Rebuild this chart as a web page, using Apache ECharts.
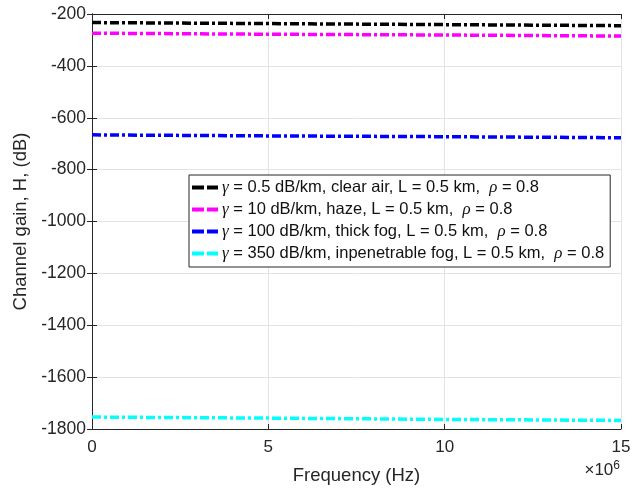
<!DOCTYPE html>
<html>
<head>
<meta charset="utf-8">
<script src="https://cdn.jsdelivr.net/npm/echarts@6/dist/echarts.min.js"></script>
<style>
  html, body { margin: 0; padding: 0; background: #fff; }
  #chart { width: 642px; height: 492px; }
</style>
</head>
<body>
<div id="chart"></div>
<script>
// frequency in Hz
var freq = [0, 5e6, 10e6, 15e6];
var clearAir = [-233, -237, -241, -245];
var haze = [-274, -278, -281, -285];
var thickFog = [-666, -670, -673, -677];
var inpenetrableFog = [-1754, -1758, -1763, -1767];
var xTicks = [0, 5, 10, 15];

var names = [
    "γ = 0.5 dB/km, clear air, L = 0.5 km,  ρ = 0.8",
    "γ = 10 dB/km, haze, L = 0.5 km,  ρ = 0.8",
    "γ = 100 dB/km, thick fog, L = 0.5 km,  ρ = 0.8",
    "γ = 350 dB/km, inpenetrable fog, L = 0.5 km,  ρ = 0.8"
];
var colors = ["#000000", "#ff00ff", "#0000ff", "#00ffff"];
var values = [clearAir, haze, thickFog, inpenetrableFog];

var font = "Liberation Sans, Arial, sans-serif";
var axisColor = "#262626";

function pairs(ys) {
    return freq.map(function (f, i) { return [f, ys[i]]; });
}

var series = values.map(function (ys, i) {
    return {
        name: names[i],
        type: "line",
        symbol: "none",
        data: pairs(ys),
        lineStyle: { color: colors[i], width: 3.5, type: [9, 3, 3, 3] },
        itemStyle: { color: colors[i] }
    };
});

var chart = echarts.init(document.getElementById("chart"));
chart.setOption({
    animation: false,
    backgroundColor: "#fff",
    grid: { left: 92, right: 21, top: 14, bottom: 63 },
    legend: {
        orient: "vertical",
        left: 189,
        top: 175,
        backgroundColor: "#fff",
        borderColor: axisColor,
        borderWidth: 1,
        padding: [4, 6, 5, 3],
        itemGap: 5,
        itemWidth: 26,
        itemHeight: 4,
        icon: "path://M0,0H12V4H0Z M15,0H26V4H15Z",
        data: names,
        formatter: function (n) {
            return n.replace("γ", "{g|γ}").replace("ρ", "{g|ρ}");
        },
        textStyle: {
            fontFamily: font,
            fontSize: 16.5,
            color: "#111",
            padding: [0, 0, 0, -1],
            rich: {
                g: { fontFamily: "Liberation Serif, serif", fontStyle: "italic", fontSize: 17, color: "#111" }
            }
        }
    },
    xAxis: [{
        type: "value",
        min: 0,
        max: 15e6,
        interval: 5e6,
        name: "Frequency (Hz)",
        nameLocation: "middle",
        nameGap: 37,
        nameTextStyle: { fontFamily: font, fontSize: 18.5, color: "#262626" },
        axisLine: { lineStyle: { color: axisColor, width: 1 } },
        axisTick: { inside: true, length: 5, lineStyle: { color: axisColor } },
        axisLabel: {
            fontFamily: font, fontSize: 17, color: "#262626", margin: 10,
            formatter: function (v) { return String(xTicks[Math.round(v / 5e6)]); }
        },
        splitLine: { show: true, lineStyle: { color: "#e3e3e3", width: 1 } }
    }, {
        type: "value",
        position: "top",
        min: 0,
        max: 15e6,
        interval: 5e6,
        axisLine: { show: true, lineStyle: { color: axisColor, width: 1 } },
        axisTick: { show: true, inside: true, length: 5, lineStyle: { color: axisColor } },
        axisLabel: { show: false },
        splitLine: { show: false }
    }],
    yAxis: [{
        type: "value",
        min: -1800,
        max: -200,
        interval: 200,
        name: "Channel gain, H, (dB)",
        nameLocation: "middle",
        nameGap: 60,
        nameTextStyle: { fontFamily: font, fontSize: 18.5, color: "#262626" },
        axisLine: { show: true, lineStyle: { color: axisColor, width: 1 } },
        axisTick: { show: true, inside: true, length: 5, lineStyle: { color: axisColor } },
        axisLabel: {
            fontFamily: font, fontSize: 17.5, color: "#262626", margin: 6,
            formatter: function (v) { return String(v); }
        },
        splitLine: { show: true, lineStyle: { color: "#e3e3e3", width: 1 } }
    }, {
        type: "value",
        position: "right",
        min: -1800,
        max: -200,
        interval: 200,
        axisLine: { show: true, lineStyle: { color: axisColor, width: 1 } },
        axisTick: { show: true, inside: true, length: 5, lineStyle: { color: axisColor } },
        axisLabel: { show: false },
        splitLine: { show: false }
    }],
    graphic: [{
        type: "text",
        right: 22,
        top: 460,
        style: {
            text: "×10{s|6}",
            font: "17px " + font,
            fill: "#262626",
            rich: { s: { fontSize: 12, verticalAlign: "top", padding: [0, 0, 8, 0] } }
        }
    }],
    series: series
});
window.addEventListener("resize", chart.resize);
</script>
</body>
</html>
